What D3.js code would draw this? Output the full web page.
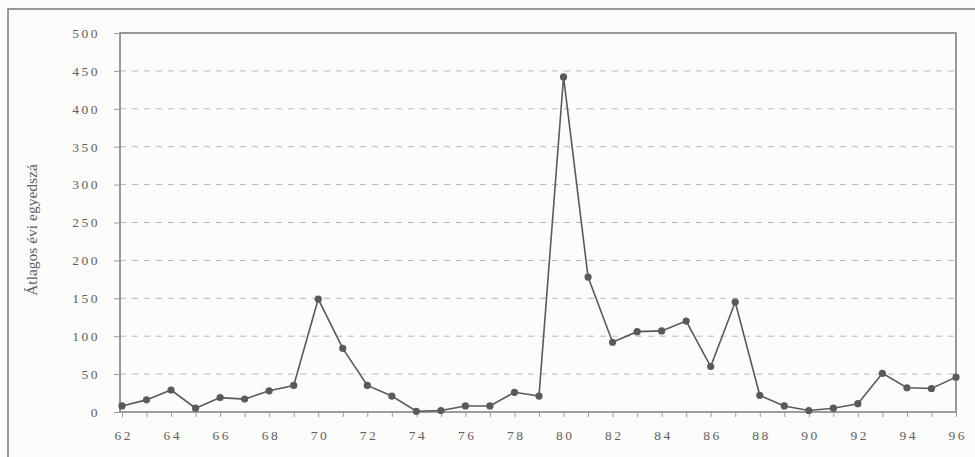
<!DOCTYPE html>
<html>
<head>
<meta charset="utf-8">
<script src="https://cdn.jsdelivr.net/npm/d3@7"></script>
<style>
  body { margin: 0; background: #fcfcfb; }
  svg { display: block; }
  text { font-family: "Liberation Serif", "DejaVu Serif", serif; fill: #5e5e5e; }
</style>
</head>
<body>
<svg id="chart" width="975" height="457"></svg>
<script>
const years = [62,63,64,65,66,67,68,69,70,71,72,73,74,75,76,77,78,79,80,81,82,83,84,85,86,87,88,89,90,91,92,93,94,95,96];
const values = [8,16,29,5,19,17,28,35,149,84,35,21,1,2,8,8,26,21,442,178,92,106,107,120,60,145,22,8,2,5,11,51,32,31,46];
const yTicks = [0,50,100,150,200,250,300,350,400,450,500];
const xTicks = [62,64,66,68,70,72,74,76,78,80,82,84,86,88,90,92,94,96];
const yTitle = "Átlagos évi egyedszá";

const svg = d3.select("#chart");
const m = {left: 120, top: 33, right: 956, bottom: 412};

const x = d3.scaleLinear().domain([62, 96]).range([m.left + 2, m.right]);
const y = d3.scaleLinear().domain([0, 500]).range([m.bottom, m.top]);

// outer frame (extends past the right/bottom edges)
svg.append("rect").attr("x", 8).attr("y", 9).attr("width", 1000).attr("height", 500)
  .attr("fill", "none").attr("stroke", "#777").attr("stroke-width", 1.5);

// gridlines
svg.append("g").selectAll("line").data(yTicks.filter(d => d > 0 && d < 500)).join("line")
  .attr("x1", m.left).attr("x2", m.right)
  .attr("y1", d => y(d)).attr("y2", d => y(d))
  .attr("stroke", "#b8b8b8").attr("stroke-width", 1).attr("stroke-dasharray", "6,6");

// plot frame: left, top, right
svg.append("path")
  .attr("d", `M${m.left},${m.bottom}V${m.top}H${m.right}V${m.bottom}`)
  .attr("fill", "none").attr("stroke", "#777").attr("stroke-width", 1.5);

// y axis
const yAxis = svg.append("g").attr("transform", `translate(${m.left},0)`)
  .call(d3.axisLeft(y).tickValues(yTicks).tickSize(6).tickPadding(14).tickFormat(d3.format("d")));
yAxis.select(".domain").remove();
yAxis.selectAll(".tick line").attr("stroke", "#999");
yAxis.selectAll(".tick text").attr("font-size", 13.5).attr("letter-spacing", "2.5px").attr("fill", "#5e5e5e")
  .attr("font-family", "Liberation Serif, serif");

// x axis
const xAxis = svg.append("g").attr("transform", `translate(0,${m.bottom})`)
  .call(d3.axisBottom(x).tickValues(years).tickSize(5).tickPadding(13)
    .tickFormat(d => xTicks.includes(d) ? d : ""));
xAxis.select(".domain").attr("stroke", "#8a7a78").attr("stroke-width", 1.5)
  .attr("d", `M${m.left},0H${m.right}`);
xAxis.selectAll(".tick line").attr("stroke", "#999");
xAxis.selectAll(".tick text").attr("font-size", 13.5).attr("letter-spacing", "2.5px").attr("fill", "#5e5e5e")
  .attr("font-family", "Liberation Serif, serif").attr("dx", "1.25px");

// y title
svg.append("text")
  .attr("transform", `translate(37,230) rotate(-90)`)
  .attr("text-anchor", "middle")
  .attr("font-size", 15.5)
  .attr("fill", "#5e5e5e")
  .text(yTitle);

// line
const line = d3.line().x((d, i) => x(years[i])).y(d => y(d));
svg.append("path").datum(values).attr("d", line)
  .attr("fill", "none").attr("stroke", "#5a5a5a").attr("stroke-width", 1.6);

svg.append("g").selectAll("circle").data(values).join("circle")
  .attr("cx", (d, i) => x(years[i])).attr("cy", d => y(d)).attr("r", 3.6)
  .attr("fill", "#5a5a5a");
</script>
</body>
</html>
